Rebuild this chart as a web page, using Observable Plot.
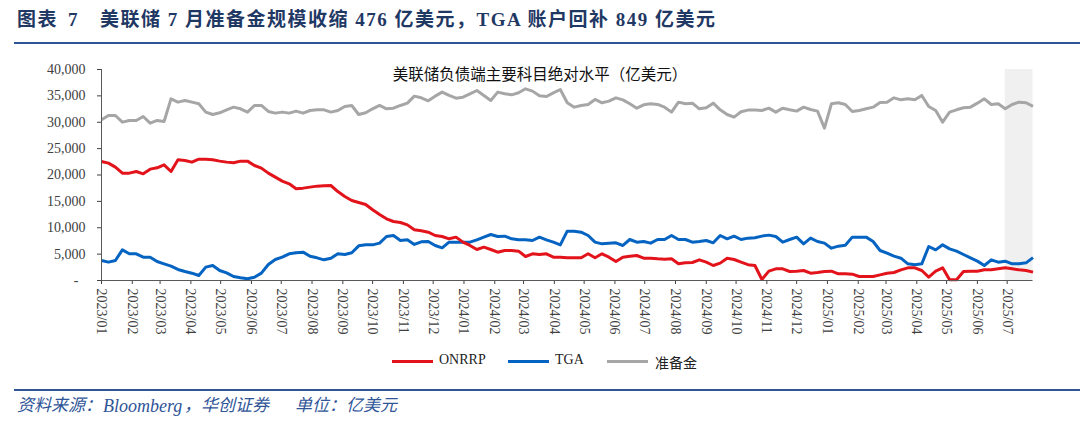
<!DOCTYPE html>
<html>
<head>
<meta charset="utf-8">
<script src="https://cdn.jsdelivr.net/npm/d3@7"></script>
<script src="https://cdn.jsdelivr.net/npm/@observablehq/plot@0.6"></script>
<style>
  body { margin: 0; background: #fff; }
  #wrap { position: relative; width: 1080px; height: 431px; overflow: hidden;
          font-family: "Liberation Serif", "Noto Sans CJK SC", serif; }
  .title { position: absolute; top: 7px; height: 26px; line-height: 26px; font-size: 19px; font-weight: bold;
           letter-spacing: 1.5px; color: #1f3864; white-space: pre; }
  .rule { position: absolute; left: 14px; right: 0; height: 2px; background: #2f5597; }
  #chart { position: absolute; left: 0; top: 50px; }
  #sub { position: absolute; left: 0; width: 1080px; top: 62px; text-align: center;
         font-size: 15.5px; color: #111; }
  .key { position: absolute; height: 3px; top: 360px; width: 41px; }
  .keytext { position: absolute; top: 352px; font-size: 14px; color: #222; white-space: pre; }
  .source { position: absolute; top: 394px; height: 24px; line-height: 24px; font-size: 17px; font-style: italic;
            color: #2f5597; white-space: pre; }
</style>
</head>
<body>
<div id="wrap">
  <div class="title" style="left:17px">图表</div>
  <div class="title" style="left:68px">7</div>
  <div class="title" style="left:100px">美联储 7 月准备金规模收缩 476 亿美元，TGA 账户回补 849 亿美元</div>
  <div class="rule" style="top:42px"></div>
  <div id="chart"></div>
  <div id="sub">美联储负债端主要科目绝对水平（亿美元）</div>
  <div class="key" style="left:392px;background:#e3131b"></div>
  <div class="keytext" style="left:439px">ONRRP</div>
  <div class="key" style="left:508px;background:#0563c1"></div>
  <div class="keytext" style="left:555px">TGA</div>
  <div class="key" style="left:607px;background:#a6a6a6"></div>
  <div class="keytext" style="left:655px">准备金</div>
  <div class="rule" style="top:389px"></div>
  <div class="source" style="left:17px">资料来源：</div>
  <div class="source" style="left:103px;font-size:18px">Bloomberg</div>
  <div class="source" style="left:184px">，华创证券</div>
  <div class="source" style="left:295px">单位：亿美元</div>
</div>
<script>
// Weekly Fed balance sheet readings (Wednesdays), 100 million USD
const firstWeek = new Date(Date.UTC(2023, 0, 4));
const lastWeek = new Date(Date.UTC(2025, 6, 30));
const julyStart = new Date(Date.UTC(2025, 6, 2));

const onrrp = [
  22560, 22250, 21490, 20350, 20350, 20670, 20220, 21110, 21360, 21930,
  20670, 22880, 22750, 22440, 23000, 23000, 22880, 22630, 22440, 22310,
  22630, 22630, 21800, 21300, 20350, 19590, 18830, 18330, 17380, 17510,
  17700, 17890, 17950, 18010, 16870, 15930, 15170, 14790, 14410, 13400,
  12510, 11690, 11190, 11000, 10550, 9610, 9420, 9160, 8530, 8340,
  7900, 8220, 7270, 6640, 5880, 6320, 5880, 5370, 5690, 5690,
  5560, 4550, 5060, 4930, 5060, 4420, 4420, 4300, 4300, 4300,
  5060, 4300, 5060, 4420, 3600, 4420, 4610, 4740, 4230, 4230,
  4110, 4040, 4110, 3160, 3350, 3410, 3920, 3480, 2840, 3290,
  4230, 3980, 3480, 3000, 2840, 190, 1770, 2210, 2210, 1710,
  1770, 1900, 1390, 1520, 1710, 1770, 1260, 1260, 1200, 760,
  760, 760, 1070, 1390, 1520, 2020, 2400, 2400, 1900, 630,
  1770, 2400, 130, 130, 1710, 1770, 1770, 2020, 2020, 2210,
  2400, 2210, 2020, 1900, 1580
];

const tga = [
  3790, 3480, 3790, 5810, 5060, 5060, 4420, 4420, 3600, 3160,
  2720, 2090, 1710, 1390, 950, 2530, 2840, 1900, 1450, 760,
  510, 320, 630, 1390, 3030, 3980, 4420, 5060, 5250, 5370,
  4610, 4300, 3920, 4230, 5060, 4930, 5250, 6570, 6760, 6760,
  7080, 8340, 8530, 7580, 7710, 6830, 7330, 7390, 6640, 6190,
  7270, 7270, 7270, 7270, 7710, 8220, 8720, 8340, 8410, 7900,
  7710, 7710, 7580, 8220, 7710, 7270, 6760, 9350, 9350, 9160,
  8530, 7270, 6950, 7080, 7140, 6640, 7770, 7270, 7390, 7080,
  7770, 7770, 8530, 7770, 7770, 7270, 7390, 7580, 7140, 8530,
  7900, 8410, 7770, 8030, 8090, 8410, 8600, 8340, 7270, 7770,
  8220, 6950, 8030, 7390, 7080, 6130, 6510, 6700, 8220, 8220,
  8220, 7390, 5690, 5180, 4610, 4230, 3160, 2970, 3160, 6450,
  5810, 6760, 6000, 5560, 4930, 4300, 3670, 2840, 3920, 3480,
  3670, 3160, 3160, 3350, 4330
];

const reserves = [
  30460, 31280, 31280, 30020, 30340, 30340, 31090, 29830, 30340, 30150,
  34440, 33810, 34130, 33810, 33500, 31920, 31470, 31790, 32360, 32860,
  32550, 31920, 33180, 33180, 32040, 31730, 31920, 31730, 32110, 31730,
  32230, 32360, 32360, 31920, 32230, 32990, 33180, 31470, 31790, 32550,
  33180, 32550, 32670, 33180, 33620, 34950, 34630, 34060, 34950, 35710,
  35080, 34570, 34760, 35390, 36020, 35080, 34130, 35710, 35390, 35200,
  35580, 36340, 35900, 35010, 34890, 35580, 36210, 33690, 32860, 33180,
  33370, 34320, 33690, 34000, 34630, 34250, 33500, 32670, 33310, 33500,
  33370, 32860, 31920, 33810, 33500, 33620, 32550, 32740, 33620, 32360,
  31470, 30970, 31980, 32300, 32300, 32230, 32670, 31920, 32670, 32360,
  32110, 32860, 32420, 32110, 28880, 33500, 33690, 33370, 32040, 32230,
  32550, 32860, 33750, 33810, 34630, 34250, 34440, 34250, 35080, 32990,
  32230, 30020, 31920, 32360, 32740, 32860, 33620, 34440, 33370, 33500,
  32550, 33370, 33810, 33690, 33020
];

const seriesNames = ["ONRRP", "TGA", "准备金"];
const seriesColors = ["#e3131b", "#0563c1", "#a6a6a6"];
const yTicks = [0, 5000, 10000, 15000, 20000, 25000, 30000, 35000, 40000];
// month ticks fall on the 4th, in step with the first weekly reading
const xTicks = d3.range(31).map(i => new Date(Date.UTC(2023, i, 4)));

const weeks = reserves.map((_, i) => d3.utcDay.offset(firstWeek, 7 * i));
const rows = [
  ...reserves.map((v, i) => ({date: weeks[i], value: v, series: "准备金"})),
  ...tga.map((v, i) => ({date: weeks[i], value: v, series: "TGA"})),
  ...onrrp.map((v, i) => ({date: weeks[i], value: v, series: "ONRRP"}))
];

const fmt = d3.format(",");
const chart = Plot.plot({
  width: 1080,
  height: 295,
  marginLeft: 101,
  marginRight: 47.5,
  marginTop: 19,
  marginBottom: 65,
  style: {fontFamily: "'Liberation Serif', serif", fontSize: "14px", color: "#404040", background: "transparent"},
  x: {type: "utc", domain: [firstWeek, lastWeek], ticks: xTicks, tickFormat: d3.utcFormat("%Y/%m"),
      tickRotate: 90, tickSize: 4, tickPadding: 4, label: null},
  y: {domain: [0, 40000], ticks: yTicks, tickFormat: d => d === 0 ? "-\u00a0\u00a0" : fmt(d),
      tickSize: 4, tickPadding: 12, label: null},
  color: {domain: seriesNames, range: seriesColors},
  marks: [
    Plot.rect([{x1: julyStart, x2: lastWeek, y1: 0, y2: 40000}],
      {x1: "x1", x2: "x2", y1: "y1", y2: "y2", fill: "#f0f0f0"}),
    Plot.line(rows, {x: "date", y: "value", z: "series", stroke: "series",
      strokeWidth: 3, strokeLinejoin: "round", strokeLinecap: "butt"}),
    Plot.ruleY([0], {stroke: "#595959", strokeWidth: 1}),
    Plot.ruleX([firstWeek], {stroke: "#595959", strokeWidth: 1})
  ]
});
document.getElementById("chart").appendChild(chart);
</script>
</body>
</html>
